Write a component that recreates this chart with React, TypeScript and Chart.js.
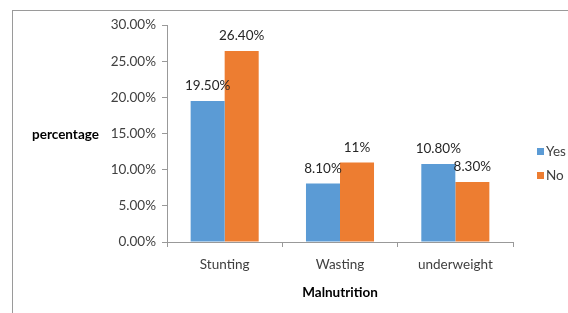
import React, { useEffect, useRef } from 'react';
import { Chart, registerables } from 'chart.js';

Chart.register(...registerables);

const categories = ['Stunting', 'Wasting', 'underweight'];
const seriesNames = ['Yes', 'No'];
const yesValues = [19.5, 8.1, 10.8];
const noValues = [26.4, 11, 8.3];
const yesLabels = ['19.50%', '8.10%', '10.80%'];
const noLabels = ['26.40%', '11%', '8.30%'];
const yTicks = [0, 5, 10, 15, 20, 25, 30];
const seriesColors = ['#5B9BD5', '#ED7D31'];

const FONT = 'Lato, "Open Sans", sans-serif';
const FS = 13.5;

export default function App() {
  const canvasRef = useRef<HTMLCanvasElement | null>(null);

  useEffect(() => {
    const canvas = canvasRef.current;
    if (!canvas) return;
    const valueLabels = [yesLabels, noLabels];

    const extras = {
      id: 'extras',
      afterDatasetsDraw(chart: any) {
        const ctx = chart.ctx;
        ctx.save();
        ctx.font = `${FS}px ${FONT}`;
        ctx.fillStyle = '#262626';
        ctx.textAlign = 'center';
        ctx.textBaseline = 'middle';
        chart.data.datasets.forEach((ds: any, i: number) => {
          const meta = chart.getDatasetMeta(i);
          meta.data.forEach((el: any, j: number) => {
            ctx.fillText(valueLabels[i][j], el.x, el.y - 15);
          });
        });
        ctx.restore();
      },
      afterDraw(chart: any) {
        const ctx = chart.ctx;
        ctx.save();
        ctx.font = `bold ${FS}px ${FONT}`;
        ctx.fillStyle = '#000';
        ctx.textAlign = 'center';
        ctx.textBaseline = 'middle';
        const yScale = chart.scales.y;
        ctx.fillText('percentage', 65.5, yScale.getPixelForValue(15) + 1);
        ctx.font = `${FS}px ${FONT}`;
        ctx.textAlign = 'left';
        chart.data.datasets.forEach((ds: any, i: number) => {
          const cy = 152 + i * 24;
          ctx.fillStyle = ds.backgroundColor;
          ctx.fillRect(537, cy - 4, 7, 7);
          ctx.fillStyle = '#404040';
          ctx.fillText(ds.label, 546, cy);
        });
        ctx.restore();
      },
    };

    const chart = new Chart(canvas, {
      type: 'bar',
      data: {
        labels: categories,
        datasets: [
          { label: seriesNames[0], data: yesValues, backgroundColor: seriesColors[0] },
          { label: seriesNames[1], data: noValues, backgroundColor: seriesColors[1] },
        ],
      },
      options: {
        animation: false,
        responsive: false,
        events: [],
        layout: { padding: { left: 0, right: 55, top: 25, bottom: 8 } },
        datasets: { bar: { categoryPercentage: 0.59, barPercentage: 1 } },
        plugins: {
          legend: { display: false },
          tooltip: { enabled: false },
        },
        scales: {
          x: {
            grid: { display: true, drawOnChartArea: false, offset: true, color: '#999', tickLength: 5 },
            border: { color: '#999' },
            ticks: { color: '#404040', font: { family: FONT, size: FS }, padding: 10 },
            title: {
              display: true,
              text: 'Malnutrition',
              color: '#000',
              font: { family: FONT, size: FS, weight: 'bold' },
              padding: { top: 4, bottom: 4 },
            },
            afterFit: (s: any) => { s.height = 63; },
          },
          y: {
            min: 0,
            max: 30,
            grid: { display: true, drawOnChartArea: false, color: '#999', tickLength: 5 },
            border: { color: '#999' },
            ticks: {
              color: '#404040',
              font: { family: FONT, size: FS },
              padding: 6,
              callback: (v: any) => Number(v).toFixed(2) + '%',
            },
            afterBuildTicks: (s: any) => { s.ticks = yTicks.map((v) => ({ value: v })); },
            afterFit: (s: any) => { s.width = 167; },
          },
        },
      },
      plugins: [extras],
    } as any);

    return () => chart.destroy();
  }, []);

  return (
    <div style={{ position: 'fixed', left: 0, top: 0, width: 568, height: 313, background: '#fff', overflow: 'hidden' }}>
      <div style={{ position: 'absolute', left: 12, top: 10, width: 700, height: 400, borderLeft: '1px solid #9a9a9a', borderTop: '1px solid #9a9a9a' }} />
      <canvas ref={canvasRef} width={568} height={313} style={{ position: 'absolute', left: 0, top: 0 }} />
    </div>
  );
}
